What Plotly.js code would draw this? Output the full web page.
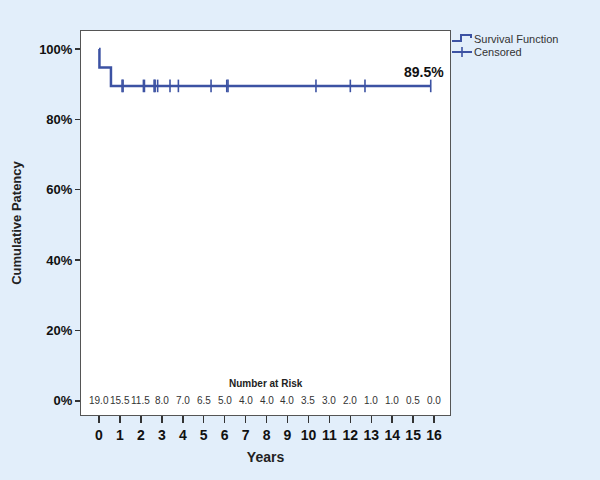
<!DOCTYPE html>
<html>
<head>
<meta charset="utf-8">
<script src="https://cdn.plot.ly/plotly-3.0.1.min.js"></script>
<style>html,body{margin:0;padding:0;background:#e2eefa;}#chart{width:600px;height:480px;}</style>
</head>
<body>
<div id="chart"></div>
<script>
// Kaplan-Meier survival (cumulative patency, %)
const eventTimes = [0, 0.02, 0.57, 15.84];
const survival = [100, 94.7, 89.5, 89.5];
// censored observations (years)
const censorTimes = [1.1, 1.15, 2.12, 2.17, 2.63, 2.68, 2.8, 3.39, 3.79, 5.35, 6.1, 6.16, 10.36, 12.0, 12.7, 15.84];
const censorSurv = censorTimes.map(() => 89.5);
// number at risk
const riskYears = [0,1,2,3,4,5,6,7,8,9,10,11,12,13,14,15,16];
const riskLabels = ["19.0","15.5","11.5","8.0","7.0","6.5","5.0","4.0","4.0","4.0","3.5","3.0","2.0","1.0","1.0","0.5","0.0"];
// y ticks
const yTickVals = [0, 20, 40, 60, 80, 100];
const yTickText = ["0%", "20%", "40%", "60%", "80%", "100%"];
const finalLabel = "89.5%";

const col = '#3c52a3';
const FONT = 'Arial, "Liberation Sans", sans-serif';
const W = 600, H = 480, L = 81, R = 450, T = 31, B = 415;
const px = x => (x - L) / (R - L);
const py = y => (B - y) / (B - T);

const traces = [
  {x: eventTimes, y: survival, mode: 'lines', line: {shape: 'hv', color: col, width: 2.5}, hoverinfo: 'skip', showlegend: false},
  {x: censorTimes, y: censorSurv, mode: 'markers', marker: {symbol: 'line-ns', size: 9, line: {color: col, width: 1.6}}, hoverinfo: 'skip', showlegend: false}
];

const annotations = riskYears.map((yr, i) => ({
  x: yr, y: 0, xref: 'x', yref: 'y', text: riskLabels[i], showarrow: false,
  font: {family: FONT, size: 10, color: '#333'}
}));
annotations.push({x: 0.5, y: 0, xref: 'paper', yref: 'y', yshift: 17, text: '<b>Number at Risk</b>', showarrow: false, font: {family: FONT, size: 10, color: '#222'}});
annotations.push({x: 15.5, y: 89.5, xref: 'x', yref: 'y', yshift: 14, text: '<b>' + finalLabel + '</b>', showarrow: false, font: {family: FONT, size: 14, color: '#111'}});
annotations.push({x: px(472), y: py(39), xref: 'paper', yref: 'paper', xanchor: 'left', yanchor: 'middle', text: 'Survival Function', showarrow: false, font: {family: FONT, size: 11, color: '#333'}});
annotations.push({x: px(472), y: py(52), xref: 'paper', yref: 'paper', xanchor: 'left', yanchor: 'middle', text: 'Censored', showarrow: false, font: {family: FONT, size: 11, color: '#333'}});

const shapes = [
  {type: 'path', xref: 'paper', yref: 'paper',
   path: `M ${px(452)} ${py(41)} L ${px(461)} ${py(41)} L ${px(461)} ${py(35)} L ${px(471)} ${py(35)} L ${px(471)} ${py(38)}`,
   line: {color: col, width: 2}},
  {type: 'line', xref: 'paper', yref: 'paper', x0: px(452), x1: px(472), y0: py(52), y1: py(52), line: {color: col, width: 2}},
  {type: 'line', xref: 'paper', yref: 'paper', x0: px(462), x1: px(462), y0: py(47), y1: py(57), line: {color: col, width: 1.6}}
];

const layout = {
  width: W, height: H,
  paper_bgcolor: '#e2eefa', plot_bgcolor: '#ffffff',
  margin: {l: L, r: W - R, t: T, b: H - B, pad: 0},
  showlegend: false,
  xaxis: {
    range: [-0.86, 16.76], tickvals: riskYears, ticktext: riskYears.map(String),
    showgrid: false, zeroline: false, showline: true, mirror: true, linecolor: '#555', linewidth: 1,
    ticks: 'outside', ticklen: 7, tickcolor: '#333', tickwidth: 1.5,
    tickfont: {family: FONT, size: 14, color: '#111', weight: 'bold'},
    title: {text: '<b>Years</b>', font: {family: FONT, size: 14, color: '#222'}, standoff: 10}
  },
  yaxis: {
    range: [-4.0, 105.1], tickvals: yTickVals, ticktext: yTickText,
    showgrid: false, zeroline: false, showline: true, mirror: true, linecolor: '#555', linewidth: 1,
    ticks: 'outside', ticklen: 5, tickcolor: '#333', tickwidth: 1.5,
    tickfont: {family: FONT, size: 13, color: '#111', weight: 'bold'},
    title: {text: '<b>Cumulative Patency</b>', font: {family: FONT, size: 13, color: '#222'}, standoff: 14}
  },
  annotations: annotations,
  shapes: shapes
};

Plotly.newPlot('chart', traces, layout, {displayModeBar: false, staticPlot: true});
</script>
</body>
</html>
